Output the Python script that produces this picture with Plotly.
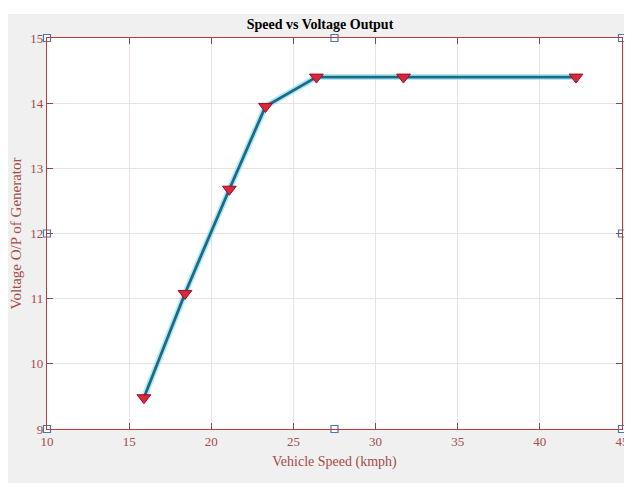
import plotly.graph_objects as go

speed = [15.9, 18.4, 21.1, 23.3, 26.4, 31.7, 42.2]
voltage = [9.48, 11.08, 12.68, 13.95, 14.4, 14.4, 14.4]
x_ticks = [10, 15, 20, 25, 30, 35, 40, 45]
y_ticks = [9, 10, 11, 12, 13, 14, 15]
handle_x = [10, 10, 10, 27.5, 45, 45, 45, 27.5]
handle_y = [9, 12, 15, 15, 15, 12, 9, 9]

axis_red = "#c0393b"
text_red = "#a84a48"
font_fam = "Liberation Serif, Times New Roman, serif"

fig = go.Figure()
fig.add_trace(go.Scatter(x=speed, y=voltage, mode="lines",
                         line=dict(color="rgba(120,220,240,0.6)", width=6),
                         hoverinfo="skip", showlegend=False))
fig.add_trace(go.Scatter(x=speed, y=voltage, mode="lines+markers",
                         line=dict(color="#1d6a86", width=2.8),
                         marker=dict(symbol="triangle-down", size=12, color="#d8283a",
                                     line=dict(color="#9a1020", width=1)),
                         showlegend=False))
fig.add_trace(go.Scatter(x=handle_x, y=handle_y, mode="markers", cliponaxis=False,
                         marker=dict(symbol="square", size=7, color="white",
                                     line=dict(color="#4a78a8", width=1.2)),
                         hoverinfo="skip", showlegend=False))

W, H = 624, 475
L, R, T, B = 39, 10, 30, 54
pw, ph = W - L - R, H - T - B

shapes = [
    dict(type="rect", xref="paper", yref="paper",
         x0=-L / pw, x1=1 + R / pw, y0=1 + (T - 6) / ph, y1=1 + T / ph,
         fillcolor="white", line=dict(width=0), layer="below"),
]

fig.update_layout(
    width=W, height=H,
    paper_bgcolor="#f0f0f0", plot_bgcolor="white",
    margin=dict(l=L, r=R, t=T, b=B, autoexpand=False),
    title=dict(text="<b>Speed vs Voltage Output</b>", x=0.5, xanchor="center",
               y=1 - 16 / H, yanchor="middle",
               font=dict(family=font_fam, size=14, color="black")),
    xaxis=dict(range=[10, 45], tickvals=x_ticks, ticktext=[str(v) for v in x_ticks],
               showgrid=True, gridcolor="#ece0e0", gridwidth=1,
               showline=True, linecolor=axis_red, linewidth=1.2, mirror="ticks",
               ticks="inside", ticklen=6, tickcolor="#705050",
               zeroline=False, ticklabeloverflow="allow", automargin=False,
               tickfont=dict(family=font_fam, size=13, color=text_red),
               title=dict(text="Vehicle Speed (kmph)", standoff=8,
                          font=dict(family=font_fam, size=14, color=text_red))),
    yaxis=dict(range=[9, 15], tickvals=y_ticks, ticktext=[str(v) for v in y_ticks],
               showgrid=True, gridcolor="#ece0e0", gridwidth=1,
               showline=True, linecolor=axis_red, linewidth=1.2, mirror="ticks",
               ticks="inside", ticklen=6, tickcolor="#705050",
               zeroline=False, ticklabeloverflow="allow", automargin=False,
               tickfont=dict(family=font_fam, size=13, color=text_red),
               title=dict(text="Voltage O/P of Generator", standoff=10,
                          font=dict(family=font_fam, size=15, color=text_red))),
    shapes=shapes,
)

fig.write_html("out.html")
